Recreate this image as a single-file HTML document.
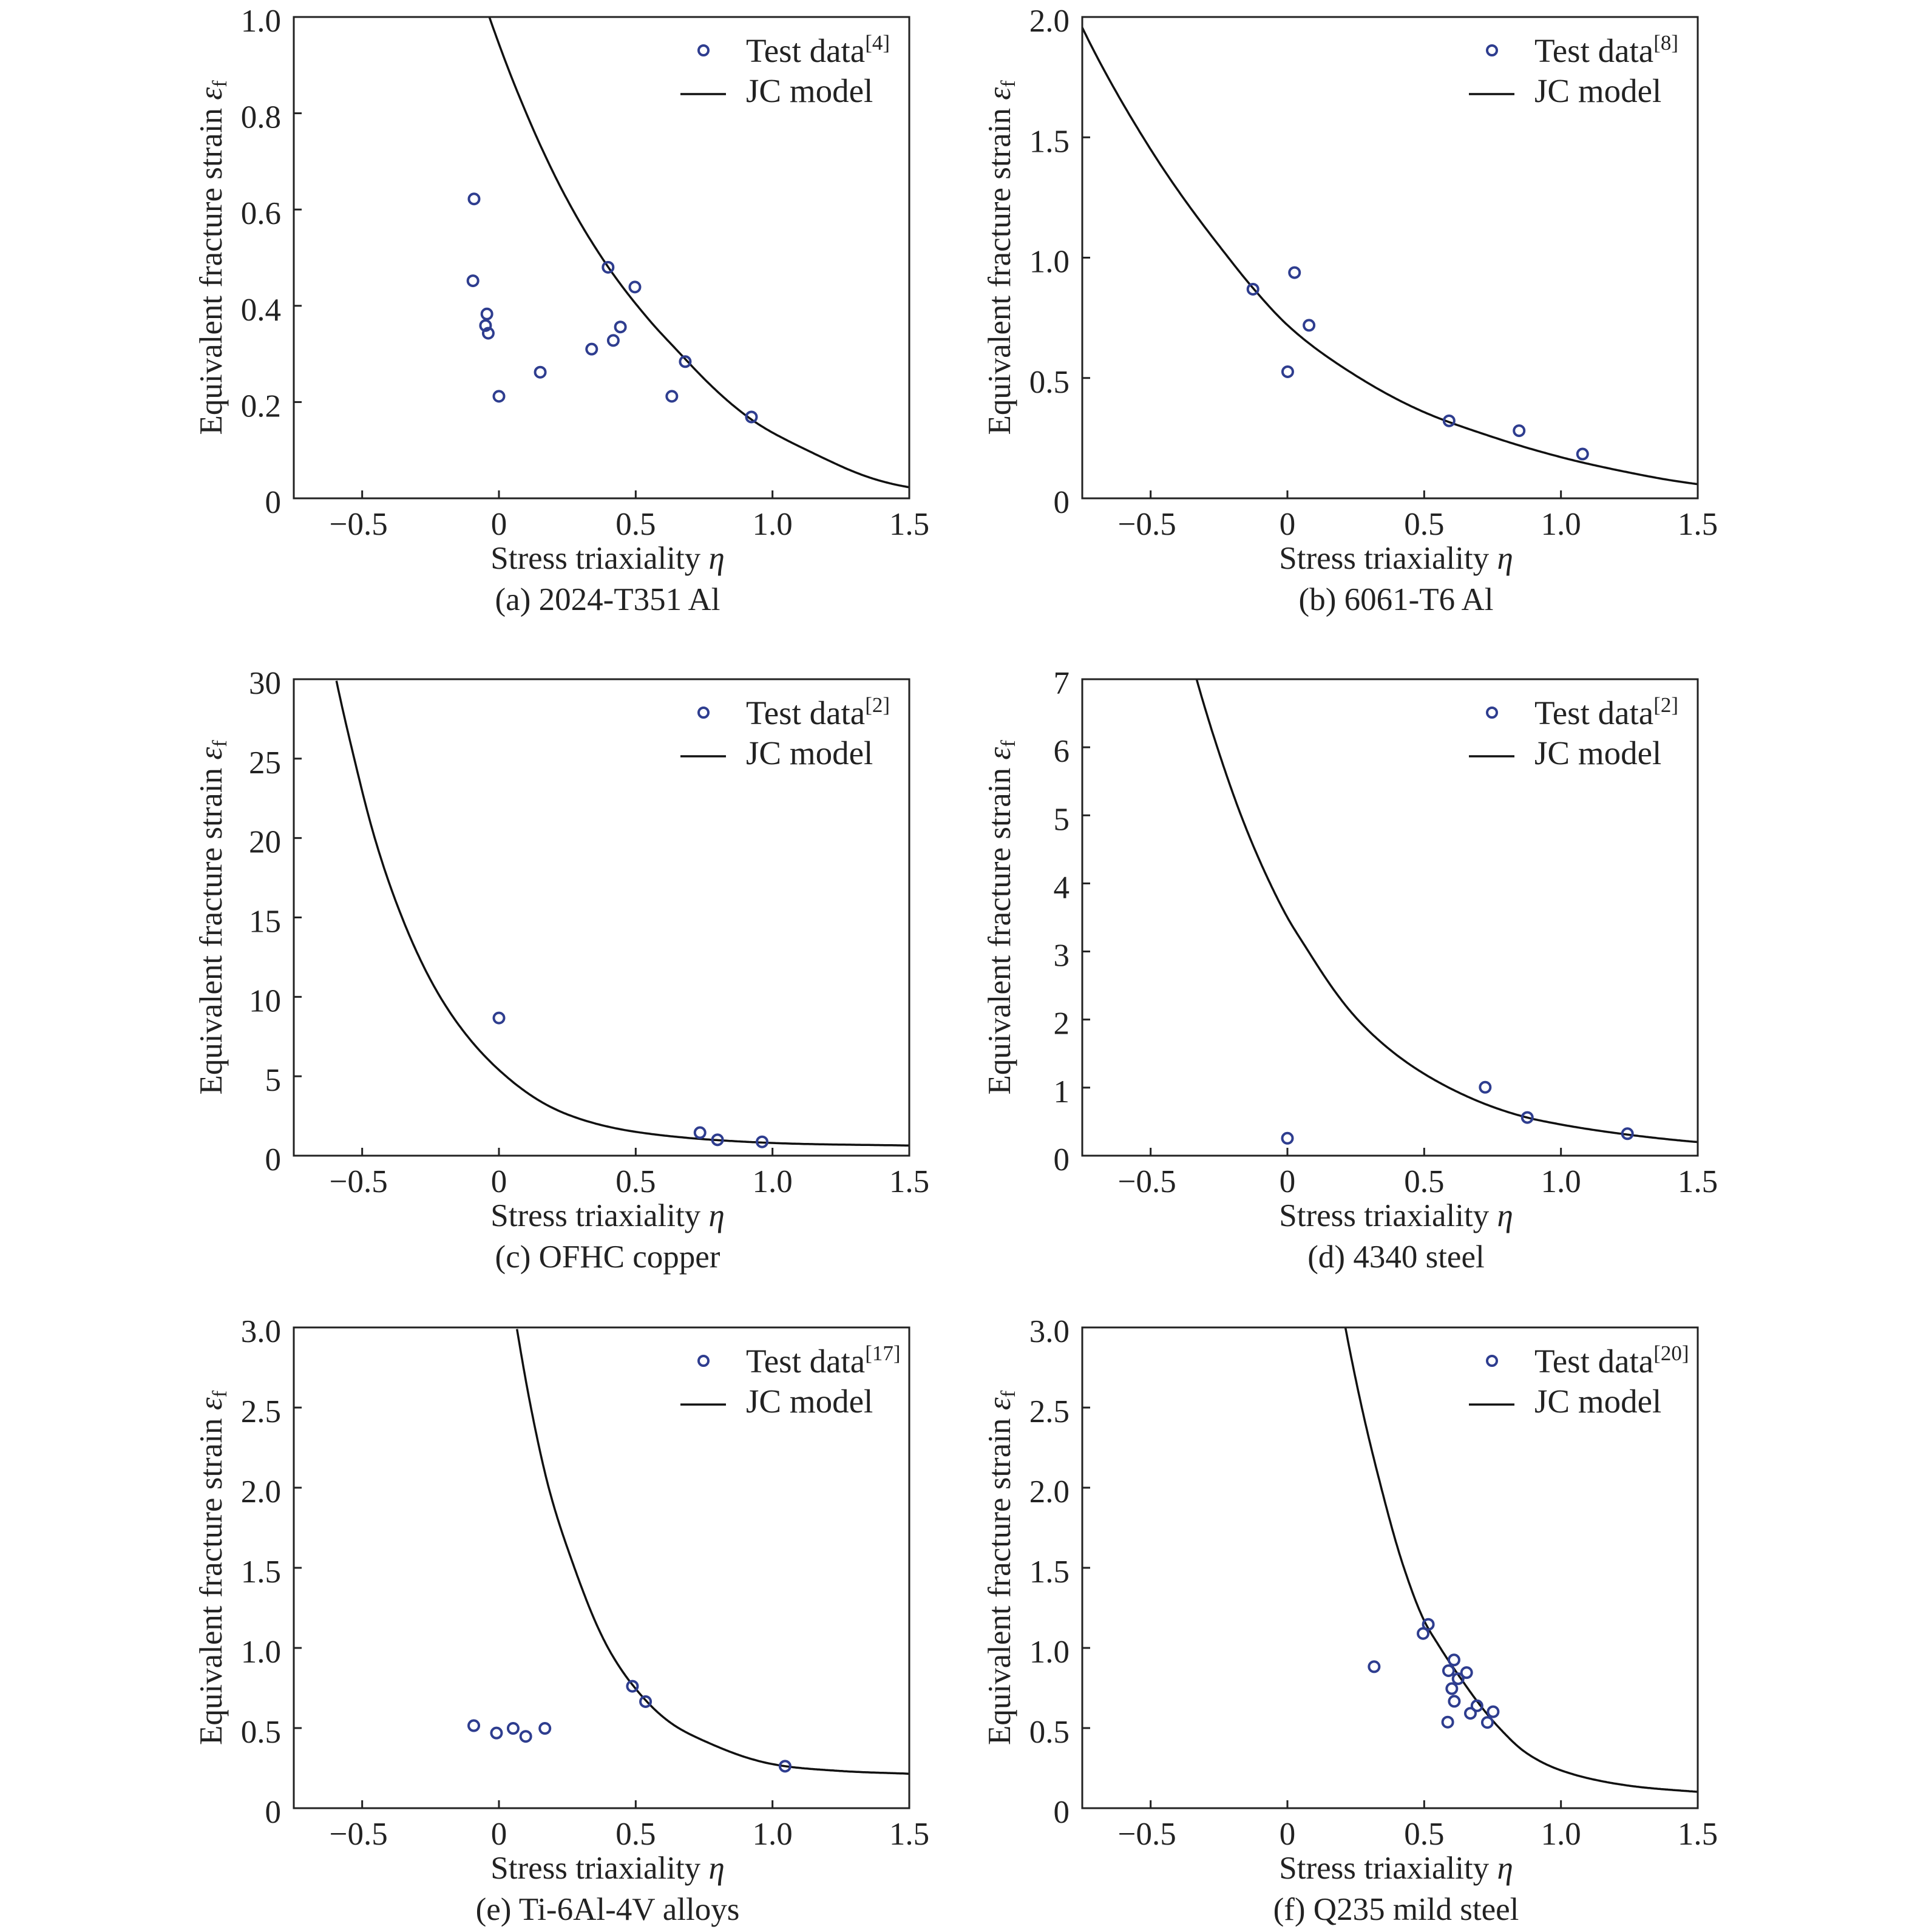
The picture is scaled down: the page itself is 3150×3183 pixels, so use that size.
<!DOCTYPE html>
<html><head><meta charset="utf-8">
<style>
html,body{margin:0;padding:0;background:#fff;}
svg{display:block;font-family:"Liberation Serif","Times New Roman",serif;}
</style></head>
<body>
<svg id="fig" width="3150" height="3183" viewBox="0 0 3150 3183" xmlns="http://www.w3.org/2000/svg"></svg>
<script>
// ---- Data arrays ----
const xTickVals = [-0.5, 0, 0.5, 1.0, 1.5];
const xTickLabels = ["\u22120.5", "0", "0.5", "1.0", "1.5"];

const aYTicks = [0, 0.2, 0.4, 0.6, 0.8, 1.0];
const aYLabels = ["0", "0.2", "0.4", "0.6", "0.8", "1.0"];
const aTestEta = [-0.091, -0.095, -0.044, -0.049, -0.039, 0, 0.151, 0.339, 0.399, 0.418, 0.444, 0.497, 0.632, 0.681, 0.923];
const aTestEf = [0.622, 0.452, 0.383, 0.359, 0.343, 0.212, 0.262, 0.310, 0.480, 0.328, 0.356, 0.439, 0.212, 0.284, 0.169];
const aCurveEta = [-0.035, 0.1, 0.25, 0.4, 0.55, 0.68, 0.92, 1.2, 1.5];
const aCurveEf = [1.0, 0.80, 0.62, 0.48, 0.37, 0.29, 0.165, 0.08, 0.023];

const bYTicks = [0, 0.5, 1.0, 1.5, 2.0];
const bYLabels = ["0", "0.5", "1.0", "1.5", "2.0"];
const bTestEta = [-0.126, 0.026, 0.079, 0.001, 0.591, 0.847, 1.079];
const bTestEf = [0.869, 0.938, 0.719, 0.526, 0.322, 0.281, 0.184];
const bCurveEta = [-0.75, -0.5, -0.25, -0.123, 0, 0.25, 0.5, 0.75, 1.0, 1.25, 1.5];
const bCurveEf = [1.956, 1.45, 1.05, 0.87, 0.72, 0.51, 0.358, 0.255, 0.171, 0.107, 0.059];

const cYTicks = [0, 5, 10, 15, 20, 25, 30];
const cYLabels = ["0", "5", "10", "15", "20", "25", "30"];
const cTestEta = [0, 0.735, 0.799, 0.962];
const cTestEf = [8.67, 1.45, 1.0, 0.87];
const cCurveEta = [-0.594, -0.529, -0.454, -0.345, -0.215, -0.1, 0, 0.25, 0.5, 1.0, 1.5];
const cCurveEf = [29.9, 25, 20, 14.6, 10, 7.2, 5.4, 2.6, 1.5, 0.8, 0.64];

const dYTicks = [0, 1, 2, 3, 4, 5, 6, 7];
const dYLabels = ["0", "1", "2", "3", "4", "5", "6", "7"];
const dTestEta = [0, 0.723, 0.877, 1.243];
const dTestEf = [0.256, 1.005, 0.561, 0.323];
const dCurveEta = [-0.332, -0.25, -0.16, -0.075, 0, 0.077, 0.257, 0.59, 0.877, 1.0, 1.243, 1.5];
const dCurveEf = [7.0, 5.92, 4.9, 4.1, 3.5, 3.0, 2.0, 1.0, 0.56, 0.458, 0.31, 0.2];

const eYTicks = [0, 0.5, 1.0, 1.5, 2.0, 2.5, 3.0];
const eYLabels = ["0", "0.5", "1.0", "1.5", "2.0", "2.5", "3.0"];
const eTestEta = [-0.092, -0.009, 0.052, 0.098, 0.168, 0.488, 0.536, 1.046];
const eTestEf = [0.515, 0.469, 0.498, 0.448, 0.498, 0.761, 0.665, 0.262];
const eCurveEta = [0.066, 0.117, 0.182, 0.276, 0.399, 0.488, 0.63, 0.75, 1.0, 1.25, 1.5];
const eCurveEf = [2.99, 2.5, 2.0, 1.5, 1.0, 0.77, 0.53, 0.42, 0.275, 0.232, 0.215];

const fYTicks = [0, 0.5, 1.0, 1.5, 2.0, 2.5, 3.0];
const fYLabels = ["0", "0.5", "1.0", "1.5", "2.0", "2.5", "3.0"];
const fTestEta = [0.317, 0.496, 0.515, 0.609, 0.589, 0.655, 0.624, 0.601, 0.610, 0.586, 0.669, 0.693, 0.731, 0.752];
const fTestEf = [0.883, 1.090, 1.147, 0.925, 0.858, 0.846, 0.808, 0.746, 0.667, 0.537, 0.592, 0.639, 0.535, 0.602];
const fCurveEta = [0.212, 0.272, 0.343, 0.426, 0.5, 0.559, 0.65, 0.775, 0.875, 1.0, 1.25, 1.5];
const fCurveEf = [3.0, 2.5, 2.0, 1.5, 1.17, 1.0, 0.77, 0.5, 0.343, 0.236, 0.14, 0.102];

// ---- Drawing ----
const NS = "http://www.w3.org/2000/svg";
const svg = document.getElementById("fig");
function mk(tag, parent) { const e = document.createElementNS(NS, tag); parent.appendChild(e); return e; }

// monotone cubic (Fritsch-Carlson) interpolation in log space
function monoInterp(xs, ys) {
  const n = xs.length, d = [], m = [];
  for (let i = 0; i < n - 1; i++) d.push((ys[i + 1] - ys[i]) / (xs[i + 1] - xs[i]));
  m[0] = d[0]; m[n - 1] = d[n - 2];
  for (let i = 1; i < n - 1; i++) m[i] = (d[i - 1] * d[i] <= 0) ? 0 : (d[i - 1] + d[i]) / 2;
  for (let i = 0; i < n - 1; i++) {
    if (d[i] === 0) { m[i] = 0; m[i + 1] = 0; continue; }
    const a = m[i] / d[i], b = m[i + 1] / d[i], s = a * a + b * b;
    if (s > 9) { const t = 3 / Math.sqrt(s); m[i] = t * a * d[i]; m[i + 1] = t * b * d[i]; }
  }
  return function (x) {
    let i = 0;
    while (i < n - 2 && x > xs[i + 1]) i++;
    const h = xs[i + 1] - xs[i], t = (x - xs[i]) / h;
    const h00 = 2*t*t*t - 3*t*t + 1, h10 = t*t*t - 2*t*t + t, h01 = -2*t*t*t + 3*t*t, h11 = t*t*t - t*t;
    return h00 * ys[i] + h10 * h * m[i] + h01 * ys[i + 1] + h11 * h * m[i + 1];
  };
}

const panels = [
  {id:"a", L:484, T:28, B:821, ymax:1.0, yt:aYTicks, yl:aYLabels, te:aTestEta, tf:aTestEf, ce:aCurveEta, cf:aCurveEf, ref:"[4]", cap:"(a) 2024-T351 Al"},
  {id:"b", L:1783, T:28, B:821, ymax:2.0, yt:bYTicks, yl:bYLabels, te:bTestEta, tf:bTestEf, ce:bCurveEta, cf:bCurveEf, ref:"[8]", cap:"(b) 6061-T6 Al"},
  {id:"c", L:484, T:1119, B:1904, ymax:30, yt:cYTicks, yl:cYLabels, te:cTestEta, tf:cTestEf, ce:cCurveEta, cf:cCurveEf, ref:"[2]", cap:"(c) OFHC copper"},
  {id:"d", L:1783, T:1119, B:1904, ymax:7, yt:dYTicks, yl:dYLabels, te:dTestEta, tf:dTestEf, ce:dCurveEta, cf:dCurveEf, ref:"[2]", cap:"(d) 4340 steel"},
  {id:"e", L:484, T:2187, B:2979, ymax:3.0, yt:eYTicks, yl:eYLabels, te:eTestEta, tf:eTestEf, ce:eCurveEta, cf:eCurveEf, ref:"[17]", cap:"(e) Ti-6Al-4V alloys"},
  {id:"f", L:1783, T:2187, B:2979, ymax:3.0, yt:fYTicks, yl:fYLabels, te:fTestEta, tf:fTestEf, ce:fCurveEta, cf:fCurveEf, ref:"[20]", cap:"(f) Q235 mild steel"}
];
const W = 1014, XMIN = -0.75, XMAX = 1.5;
const BLUE = "#2e3d8f";

panels.forEach(p => {
  const R = p.L + W;
  const xs = v => p.L + (v - XMIN) / (XMAX - XMIN) * W;
  const ys = v => p.B - v / p.ymax * (p.B - p.T);

  const g = mk("g", svg);
  
  

  const clip = mk("clipPath", g);
  clip.setAttribute("id", "clip-" + p.id);
  const cr = mk("rect", clip);
  cr.setAttribute("x", p.L); cr.setAttribute("y", p.T);
  cr.setAttribute("width", W); cr.setAttribute("height", p.B - p.T);

  // curve: monotone interpolation of log(ef) through sampled points
  const f = monoInterp(p.ce, p.cf.map(v => Math.log(v)));
  const e0 = p.ce[0], e1 = p.ce[p.ce.length - 1];
  let d = "";
  const N = 300;
  for (let k = 0; k <= N; k++) {
    const e = e0 + (e1 - e0) * k / N;
    const v = Math.exp(f(e));
    d += (k ? " L" : "M") + xs(e).toFixed(1) + "," + ys(v).toFixed(1);
  }
  const curve = mk("path", g);
  
  
  curve.setAttribute("d", d);
  curve.setAttribute("fill", "none");
  curve.setAttribute("stroke", "#111");
  curve.setAttribute("stroke-width", "3.5");
  curve.setAttribute("stroke-linejoin", "round");
  curve.setAttribute("clip-path", "url(#clip-" + p.id + ")");

  // test data points
  p.te.forEach((e, i) => {
    const c = mk("circle", g);
    
    
    c.setAttribute("cx", xs(e)); c.setAttribute("cy", ys(p.tf[i]));
    c.setAttribute("r", "8.5");
    c.setAttribute("fill", "none"); c.setAttribute("stroke", BLUE); c.setAttribute("stroke-width", "4");
  });

  // frame
  const fr = mk("rect", g);
  
  
  fr.setAttribute("x", p.L); fr.setAttribute("y", p.T);
  fr.setAttribute("width", W); fr.setAttribute("height", p.B - p.T);
  fr.setAttribute("fill", "none"); fr.setAttribute("stroke", "#222"); fr.setAttribute("stroke-width", "3");

  // x ticks
  xTickVals.forEach((v, i) => {
    const x = xs(v);
    if (v < XMAX) {
      const t = mk("line", g);
      
      
      t.setAttribute("x1", x); t.setAttribute("x2", x);
      t.setAttribute("y1", p.B); t.setAttribute("y2", p.B - 13);
      t.setAttribute("stroke", "#222"); t.setAttribute("stroke-width", "3");
    }
    const tx = mk("text", g);
    
    
    tx.setAttribute("x", x + (v < 0 ? -6 : 0)); tx.setAttribute("y", p.B + 60);
    tx.setAttribute("text-anchor", "middle"); tx.setAttribute("font-size", "53"); tx.setAttribute("fill", "#222");
    tx.textContent = xTickLabels[i];
  });

  // y ticks
  p.yt.forEach((v, i) => {
    const y = ys(v);
    if (v > 0 && v < p.ymax) {
      const t = mk("line", g);
      
      
      t.setAttribute("x1", p.L); t.setAttribute("x2", p.L + 13);
      t.setAttribute("y1", y); t.setAttribute("y2", y);
      t.setAttribute("stroke", "#222"); t.setAttribute("stroke-width", "3");
    }
    const tx = mk("text", g);
    
    
    tx.setAttribute("x", p.L - 21); tx.setAttribute("y", y + 24);
    tx.setAttribute("text-anchor", "end"); tx.setAttribute("font-size", "53"); tx.setAttribute("fill", "#222");
    tx.textContent = p.yl[i];
  });

  // axis titles
  const xt = mk("text", g);
  
  
  xt.setAttribute("x", p.L + W / 2 + 10); xt.setAttribute("y", p.B + 116);
  xt.setAttribute("text-anchor", "middle"); xt.setAttribute("font-size", "53"); xt.setAttribute("fill", "#222");
  xt.innerHTML = 'Stress triaxiality <tspan font-style="italic">\u03b7</tspan>';

  const yt = mk("text", g);
  
  
  const cx = p.L - 137, cy = (p.T + p.B) / 2;
  yt.setAttribute("transform", "translate(" + (cx + 18) + "," + cy + ") rotate(-90)");
  yt.setAttribute("text-anchor", "middle"); yt.setAttribute("font-size", "53"); yt.setAttribute("fill", "#222");
  yt.innerHTML = 'Equivalent fracture strain <tspan font-style="italic">\u03b5</tspan><tspan font-size="34" dy="8">f</tspan>';

  const cap = mk("text", g);
  
  
  cap.setAttribute("x", p.L + W / 2 + 10); cap.setAttribute("y", p.B + 184);
  cap.setAttribute("text-anchor", "middle"); cap.setAttribute("font-size", "53"); cap.setAttribute("fill", "#222");
  cap.textContent = p.cap;

  // legend
  const lg = mk("g", g);
  
  
  const lm = mk("circle", lg);
  
  
  lm.setAttribute("cx", R - 339); lm.setAttribute("cy", p.T + 55); lm.setAttribute("r", "8");
  lm.setAttribute("fill", "none"); lm.setAttribute("stroke", BLUE); lm.setAttribute("stroke-width", "4");
  const lt = mk("text", lg);
  
  
  lt.setAttribute("x", R - 269); lt.setAttribute("y", p.T + 74);
  lt.setAttribute("font-size", "55"); lt.setAttribute("fill", "#222");
  lt.innerHTML = 'Test data<tspan font-size="35" dy="-20">' + p.ref + '</tspan>';
  const ll = mk("line", lg);
  
  
  ll.setAttribute("x1", R - 377); ll.setAttribute("x2", R - 302);
  ll.setAttribute("y1", p.T + 127); ll.setAttribute("y2", p.T + 127);
  ll.setAttribute("stroke", "#111"); ll.setAttribute("stroke-width", "3.5");
  const lt2 = mk("text", lg);
  
  
  lt2.setAttribute("x", R - 269); lt2.setAttribute("y", p.T + 140);
  lt2.setAttribute("font-size", "55"); lt2.setAttribute("fill", "#222");
  lt2.textContent = "JC model";
});
</script>
</body></html>
